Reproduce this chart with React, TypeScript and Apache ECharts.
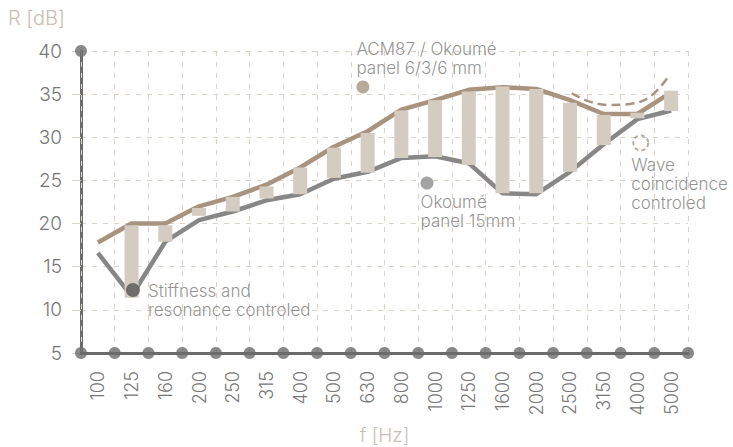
import React, { useEffect, useRef } from "react";
import * as echarts from "echarts";

const categories = ["100", "125", "160", "200", "250", "315", "400", "500", "630", "800", "1000", "1250", "1600", "2000", "2500", "3150", "4000", "5000"];
const acm87 = [17.8, 20.0, 20.0, 22.0, 23.1, 24.5, 26.5, 28.9, 30.7, 33.2, 34.3, 35.5, 35.8, 35.6, 34.3, 32.7, 32.7, 35.2];
const okoume15 = [16.6, 11.6, 17.9, 20.4, 21.4, 22.7, 23.4, 25.2, 26.0, 27.6, 27.8, 27.0, 23.5, 23.4, 26.0, 29.2, 32.1, 33.1];
const barBottom: (number | null)[] = [null, 11.4, 17.9, 20.9, 21.4, 22.9, 23.4, 25.3, 25.9, 27.6, 27.7, 26.8, 23.5, 23.5, 26.0, 29.1, 32.2, 33.05];
const barTop: (number | null)[] = [null, 19.8, 19.8, 21.8, 23.1, 24.3, 26.5, 28.8, 30.5, 33.1, 34.3, 35.3, 35.9, 35.6, 34.0, 32.6, 32.85, 35.4];
const yMin = 5;
const yMax = 40;
const yStep = 5;
// dashed "wave coincidence" curve, in (band index, dB)
const dashedCurve = [[14.55, 35.1], [15.09, 34.13], [15.69, 33.74], [16.28, 33.86], [16.87, 34.7], [17.42, 37.02]];
const annotationTexts = ["ACM87 / Okoumé\npanel 6/3/6 mm", "Okoumé\npanel 15mm", "Stiffness and\nresonance controled", "Wave\ncoincidence\ncontroled"];
const annotationPoints = [[8.36, 35.83], [10.26, 24.7], [1.54, 12.3], [16.6, 29.34]];

export default function App() {
  const ref = useRef<HTMLDivElement>(null);
  useEffect(() => {
    const chart = echarts.init(ref.current!, null, { renderer: "svg" });
    const font = "Inter, Roboto, sans-serif";
    const tan = "#a8937f";
    const grey = "#878787";
    const dark = "#6b6b6b";
    const gridCol = "#dcd2c7";
    const textCol = "#777777";
    const nameCol = "#c9beb3";

    const n = categories.length;
    const boundaryDots: number[][] = [];
    for (let i = 0; i <= n; i++) boundaryDots.push([i, yMin]);
    boundaryDots.push([0, yMax]);

    const barBase = barBottom.map((v) => (v == null ? "-" : v));
    const barSpan = barBottom.map((v, i) => (v == null || barTop[i] == null ? "-" : +((barTop[i] as number) - v).toFixed(2)));

    const annStyles = [
      { color: tan, size: 13, pos: [0, -3], va: "bottom" },
      { color: "#8d8d8d", size: 13, pos: [0, 16], va: "top" },
      { color: "#555555", size: 14, pos: [22, -2], va: "top" },
      { color: "none", size: 15, pos: [-1, 21], va: "top", dashed: true },
    ];

    const annData = annotationPoints.map((p, i) => {
      const s: any = annStyles[i];
      return {
        value: p,
        symbolSize: s.size,
        itemStyle: s.dashed
          ? { color: "rgba(0,0,0,0)", borderColor: tan, borderWidth: 2, borderType: [4, 3] }
          : { color: s.color },
        label: {
          show: true,
          formatter: annotationTexts[i],
          position: s.pos,
          align: "left",
          verticalAlign: s.va,
          color: textCol,
          fontSize: 17,
          lineHeight: 19,
          fontFamily: font,
          fontWeight: 300,
        },
      };
    });

    chart.setOption({
      animation: false,
      textStyle: { fontFamily: font },
      grid: { left: 81, right: 45, top: 51, bottom: 94, outerBoundsMode: "none" },
      graphic: [
        { type: "text", left: 8, top: 8, style: { text: "R [dB]", fontSize: 20, fill: nameCol, fontFamily: font, fontWeight: 300 } },
      ],
      xAxis: [
        {
          type: "category",
          data: categories,
          boundaryGap: true,
          axisLine: { show: true, lineStyle: { color: dark, width: 3 } },
          axisTick: { show: false },
          axisLabel: { rotate: 90, fontSize: 18, color: textCol, margin: 18, fontWeight: 300, fontFamily: font },
          splitLine: { show: true, lineStyle: { color: gridCol, type: [5, 6], width: 1 } },
          name: "f [Hz]",
          nameLocation: "middle",
          nameGap: 73,
          nameTextStyle: { color: nameCol, fontSize: 19, fontWeight: 300, fontFamily: font, verticalAlign: "top", lineHeight: 19 },
          z: 1,
        },
        { type: "value", min: 0, max: n, show: false },
      ],
      yAxis: {
        type: "value",
        min: yMin,
        max: yMax,
        interval: yStep,
        axisLine: { show: true, lineStyle: { color: dark, width: 3 } },
        axisTick: { show: true, length: 9, lineStyle: { color: gridCol, width: 1 } },
        axisLabel: { fontSize: 19, color: textCol, margin: 19, fontWeight: 300, fontFamily: font },
        splitLine: { show: true, lineStyle: { color: gridCol, type: [5, 6], width: 1 } },
      },
      series: [
        { type: "line", data: acm87, symbol: "none", lineStyle: { color: tan, width: 4.5 }, itemStyle: { color: tan }, z: 2 },
        { type: "line", data: okoume15, symbol: "none", lineStyle: { color: grey, width: 4.5 }, itemStyle: { color: grey }, z: 2 },
        { type: "bar", stack: "r", data: barBase, barWidth: 14, itemStyle: { color: "rgba(0,0,0,0)" }, z: 3 },
        { type: "bar", stack: "r", data: barSpan, barWidth: 14, itemStyle: { color: "#d4cbc1" }, z: 3 },
        {
          type: "line",
          xAxisIndex: 1,
          data: dashedCurve,
          smooth: 0.4,
          symbol: "none",
          lineStyle: { color: tan, width: 2.5, type: [9, 5] },
          z: 4,
        },
        { type: "scatter", xAxisIndex: 1, data: boundaryDots, symbolSize: 12, itemStyle: { color: dark }, z: 10 },
        { type: "scatter", xAxisIndex: 1, data: annData, z: 9 },
      ],
    });
    return () => chart.dispose();
  }, []);
  return <div ref={ref} style={{ position: "absolute", left: 0, top: 0, width: 733, height: 447 }} />;
}
